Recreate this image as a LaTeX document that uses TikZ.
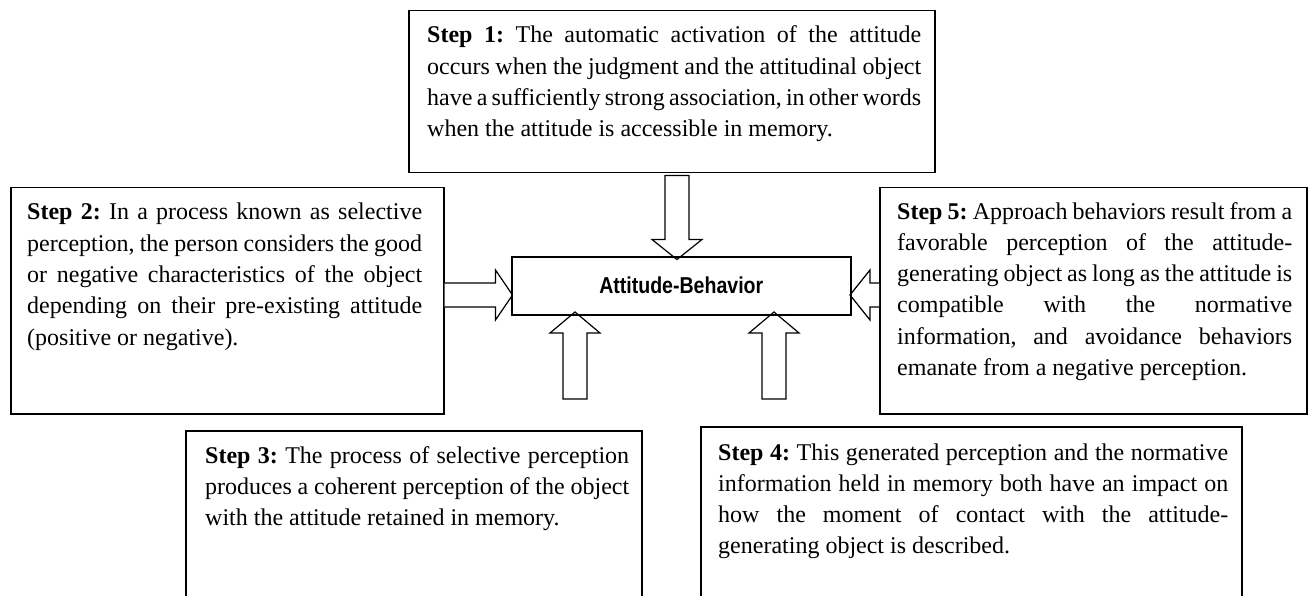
\documentclass[tikz,border=0pt]{standalone}
\usepackage{fontspec}
\setmainfont{Liberation Serif}
\newfontfamily\abfont[FakeStretch=0.85]{Liberation Sans}
\usetikzlibrary{calc}
\newcommand\tsp{\spaceskip=0.25em plus 0.8em minus 0.12em\relax}
\newcommand\jl[2]{\makebox[#1][s]{\tsp #2}}
\begin{document}
\frenchspacing
\begin{tikzpicture}[x=1pt,y=-1pt,
  box/.style={draw, line width=1.5pt, inner sep=0pt, anchor=north west},
  txt/.style={inner sep=0pt, anchor=base west, align=left, font=\fontsize{24}{31.3}\selectfont\frenchspacing},
  blk/.style={draw, line width=1.2pt, fill=white, line join=miter}]
\clip (0,0) rectangle (1309,596);
\fill[white] (0,0) rectangle (1309,596);
% boxes
\node[box, minimum width=526pt, minimum height=162pt] (b1) at (408,10) {};
\node[box, minimum width=433pt, minimum height=226pt] (b2) at (10,187) {};
\node[box, minimum width=427pt, minimum height=226pt] (b5) at (879,187) {};
\node[box, minimum width=456pt, minimum height=200pt] (b3) at (185,430) {};
\node[box, minimum width=541pt, minimum height=200pt] (b4) at (700,426) {};
% arrow end points
\coordinate (d1s) at ($(b1.south west)+(269,2)$);
\coordinate (d1e) at ($(d1s)+(0,84)$);
\coordinate (l1s) at ($(b2.north east)+(0,108)$);
\coordinate (l1e) at ($(l1s)+(68,0)$);
\coordinate (r1s) at ($(b5.north west)+(0,108)$);
\coordinate (r1e) at ($(r1s)+(-29,0)$);
\coordinate (u1s) at (575,399);
\coordinate (u1e) at (575,312);
\coordinate (u2s) at (774,399);
\coordinate (u2e) at (774,312);
% block arrows
\draw[blk] ($(d1s)+(-12,0)$) -- ($(d1e)+(-12,-20)$) -- ($(d1e)+(-25,-20)$) -- (d1e)
  -- ($(d1e)+(25,-20)$) -- ($(d1e)+(12,-20)$) -- ($(d1s)+(12,0)$) -- cycle;
\draw[blk] ($(u1s)+(-12,0)$) -- ($(u1e)+(-12,21)$) -- ($(u1e)+(-25,21)$) -- (u1e)
  -- ($(u1e)+(25,21)$) -- ($(u1e)+(12,21)$) -- ($(u1s)+(12,0)$) -- cycle;
\draw[blk] ($(u2s)+(-12,0)$) -- ($(u2e)+(-12,21)$) -- ($(u2e)+(-25,21)$) -- (u2e)
  -- ($(u2e)+(25,21)$) -- ($(u2e)+(12,21)$) -- ($(u2s)+(12,0)$) -- cycle;
\draw[blk] ($(l1s)+(0,-12)$) -- ($(l1e)+(-17,-12)$) -- ($(l1e)+(-17,-25)$) -- (l1e)
  -- ($(l1e)+(-17,25)$) -- ($(l1e)+(-17,12)$) -- ($(l1s)+(0,12)$);
\draw[blk] ($(r1s)+(0,-12)$) -- ($(r1e)+(20,-12)$) -- ($(r1e)+(20,-25)$) -- (r1e)
  -- ($(r1e)+(20,25)$) -- ($(r1e)+(20,12)$) -- ($(r1s)+(0,12)$);
% centre box
\node[box, minimum width=339pt, minimum height=58pt] (ab) at (511,256) {};
\node[inner sep=0pt, font=\abfont\bfseries\fontsize{23}{26}\selectfont] (abl) at (ab.center) {Attitude-Behavior};
% texts
\node[txt, text width=496pt] (t1) at (427,43) {\tsp\jl{494pt}{\textbf{Step 1:} The automatic activation of the attitude}\\
\jl{494pt}{occurs when the judgment and the attitudinal object}\\
\jl{494pt}{have a sufficiently strong association, in other words}\\
when the attitude is accessible in memory.};
\node[txt, text width=397pt] (t2) at (27,220) {\tsp\jl{395pt}{\textbf{Step 2:} In a process known as selective}\\
\jl{395pt}{perception, the person considers the good}\\
\jl{395pt}{or negative characteristics of the object}\\
\jl{395pt}{depending on their pre-existing attitude}\\
(positive or negative).};
\node[txt, text width=397pt] (t5) at (897,219) {\tsp\jl{395pt}{\textbf{Step 5:} Approach behaviors result from a}\\
\jl{395pt}{favorable perception of the attitude-}\\
\jl{395pt}{generating object as long as the attitude is}\\
\jl{395pt}{compatible with the normative}\\
\jl{395pt}{information, and avoidance behaviors}\\
emanate from a negative perception.};
\node[txt, text width=427pt] (t3) at (205,463) {\tsp\jl{424pt}{\textbf{Step 3:} The process of selective perception}\\
\jl{424pt}{produces a coherent perception of the object}\\
with the attitude retained in memory.};
\node[txt, text width=512pt] (t4) at (718,460) {\tsp\jl{510pt}{\textbf{Step 4:} This generated perception and the normative}\\
\jl{510pt}{information held in memory both have an impact on}\\
\jl{510pt}{how the moment of contact with the attitude-}\\
generating object is described.};
\end{tikzpicture}
\end{document}
